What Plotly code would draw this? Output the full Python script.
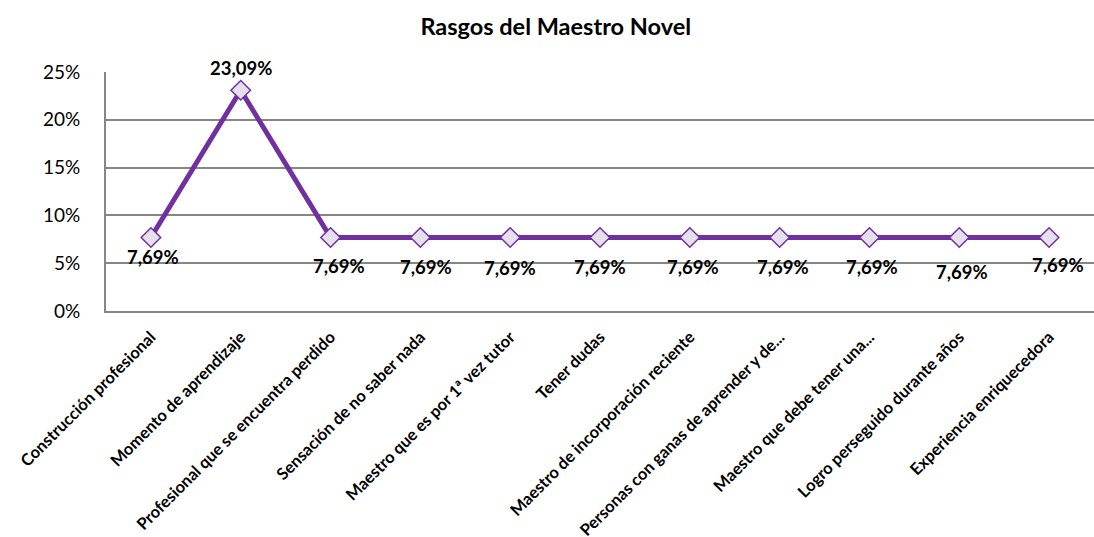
import plotly.graph_objects as go

# Rasgos del maestro novel: porcentaje de respuestas por categoría
categorias = [
    "Construcción profesional",
    "Momento de aprendizaje",
    "Profesional que se encuentra perdido",
    "Sensación de no saber nada",
    "Maestro que es por 1ª vez tutor",
    "Tener dudas",
    "Maestro de incorporación reciente",
    "Personas con ganas de aprender y de...",
    "Maestro que debe tener una...",
    "Logro perseguido durante años",
    "Experiencia enriquecedora",
]
porcentajes = [7.69, 23.09, 7.69, 7.69, 7.69, 7.69, 7.69, 7.69, 7.69, 7.69, 7.69]
etiquetas = [f"{v:.2f}%".replace(".", ",") for v in porcentajes]
# vertical offset (px) of each data label relative to its marker
desplazamientos = [-20, 22, -29, -30, -31, -30, -30, -30, -30, -35, -28]
desplaz_x = [2, 0, 8, 6, 0, 0, 3, 3, 3, 3, 9]

morado = "#7030A0"
relleno = "#E6E0EC"
gris = "#868686"
fuente = "Lato, Carlito, Calibri, sans-serif"

fig = go.Figure()
fig.add_trace(go.Scatter(
    x=categorias,
    y=porcentajes,
    mode="lines+markers",
    line=dict(color=morado, width=5),
    marker=dict(symbol="diamond", size=15, color=relleno,
                line=dict(color=morado, width=1.5)),
    hoverinfo="skip",
    showlegend=False,
))

for cat, val, txt, dy, dx in zip(categorias, porcentajes, etiquetas, desplazamientos, desplaz_x):
    fig.add_annotation(
        x=cat, y=val, text=f"<b>{txt}</b>", showarrow=False,
        yshift=dy, xshift=dx,
        font=dict(family=fuente, size=18.5, color="#000000"),
    )

fig.update_layout(
    width=1094, height=537,
    margin=dict(l=106, r=0, t=72, b=226),
    paper_bgcolor="white",
    plot_bgcolor="white",
    title=dict(text="<b>Rasgos del Maestro Novel</b>", x=0.508, xanchor="center",
               y=0.951, yanchor="middle",
               font=dict(family=fuente, size=23.5, color="#000000")),
    xaxis=dict(
        type="category",
        tickangle=-45,
        tickfont=dict(family=fuente, size=16.5, color="#000000", weight="bold"),
        showgrid=False,
        showline=True, linecolor=gris, linewidth=2,
        ticks="", automargin=False, ticklabelstandoff=8,
        range=[-0.5, len(categorias) - 0.5],
    ),
    yaxis=dict(
        range=[0, 25],
        tickvals=[0, 5, 10, 15, 20, 25],
        ticktext=["0%", "5%", "10%", "15%", "20%", "25%"],
        tickfont=dict(family=fuente, size=19, color="#000000"),
        showgrid=True, gridcolor=gris, gridwidth=1.5,
        showline=True, linecolor=gris, linewidth=2,
        zeroline=False,
        ticks="", ticklabelstandoff=20,
        automargin=False,
    ),
)

fig.write_html("out.html")
